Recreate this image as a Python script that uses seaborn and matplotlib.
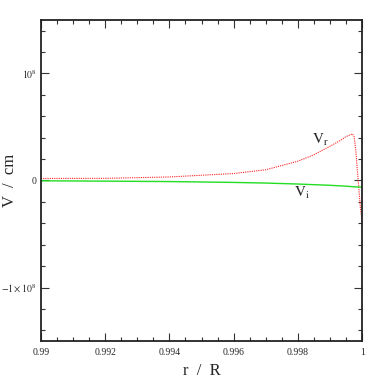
import numpy as np
import pandas as pd
import matplotlib
matplotlib.use('Agg')
import matplotlib.pyplot as plt
import matplotlib.ticker as ticker
import seaborn as sns

# ==========================================
# Data (V in cm units)
# ==========================================
r_vr = [0.990, 0.992, 0.994, 0.996, 0.997, 0.998, 0.9985, 0.999, 0.9993,
        0.9995, 0.9997, 0.99975, 0.9998, 0.99985, 0.9999, 0.99995, 1.0]
vr   = [0.19e7, 0.20e7, 0.33e7, 0.65e7, 1.0e7, 1.8e7, 2.4e7, 3.2e7, 3.7e7,
        4.1e7, 4.35e7, 4.1e7, 2.9e7, 1.0e7, -0.85e7, -2.7e7, -3.8e7]

r_vi = [0.990, 0.992, 0.994, 0.996, 0.997, 0.998, 0.999, 0.9995, 0.9998, 1.0]
vi   = [-0.03e7, -0.06e7, -0.10e7, -0.18e7, -0.24e7, -0.33e7, -0.45e7,
        -0.53e7, -0.60e7, -0.62e7]

ytick_vals   = [-1e8, 0, 1e8]
ytick_labels = [r'$-1\times10^8$', '0', r'$10^8$']
xtick_vals   = [0.99, 0.992, 0.994, 0.996, 0.998, 1.0]
xtick_labels = ['0.99', '0.992', '0.994', '0.996', '0.998', '1']

vr_df = pd.DataFrame({'r': r_vr, 'V': vr})
vi_df = pd.DataFrame({'r': r_vi, 'V': vi})

# ==========================================
# Style
# ==========================================
sns.set_style('ticks')
plt.rcParams['font.family'] = ['Liberation Serif', 'DejaVu Serif']
plt.rcParams['mathtext.fontset'] = 'stix'

fig = plt.figure(figsize=(3.82, 3.82), dpi=100)
ax = fig.add_axes([0.107, 0.107, 0.841, 0.841])

sns.lineplot(data=vr_df, x='r', y='V', ax=ax, color='#ff2020',
             linestyle=(0, (1, 1)), linewidth=0.8)
sns.lineplot(data=vi_df, x='r', y='V', ax=ax, color='#22dd22',
             linewidth=1.0)

ax.set_xlim(0.99, 1.0)
ax.set_ylim(-1.5e8, 1.5e8)

ax.xaxis.set_major_locator(ticker.FixedLocator(xtick_vals))
ax.xaxis.set_major_formatter(ticker.FixedFormatter(xtick_labels))
ax.xaxis.set_minor_locator(ticker.MultipleLocator(0.0005))
ax.yaxis.set_major_locator(ticker.FixedLocator(ytick_vals))
ax.yaxis.set_major_formatter(ticker.FixedFormatter(ytick_labels))
ax.yaxis.set_minor_locator(ticker.MultipleLocator(2e7))

ax.tick_params(which='both', direction='in', top=True, right=True,
               labelsize=7, color='#333333')
ax.tick_params(axis='x', pad=5)
ax.tick_params(axis='y', pad=3)
ax.tick_params(which='major', length=6, width=0.8)
ax.tick_params(which='minor', length=3, width=0.8)

for sp in ax.spines.values():
    sp.set_linewidth(1.3)
    sp.set_color('#222222')

ax.set_xlabel('r  /  R', fontsize=12, labelpad=4)
ax.set_ylabel('V  /  cm', fontsize=12)
ax.yaxis.set_label_coords(-0.072, 0.5)

ax.text(0.99869, 3.8e7, r'$\mathrm{V_r}$', fontsize=11, ha='center', va='center')
ax.text(0.99813, -1.2e7, r'$\mathrm{V_i}$', fontsize=11, ha='center', va='center')

fig.savefig('out.png', dpi=100)
